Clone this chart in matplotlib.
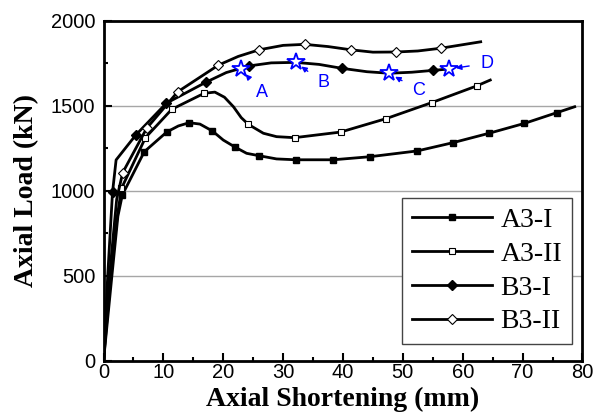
import numpy as np
import matplotlib.pyplot as plt
from matplotlib.ticker import MultipleLocator

# A3-I (filled squares); a31_mk = indices that carry a marker
a31_x = [0, 1.4, 2.4, 3.14, 6.8, 10.55, 12.5, 14.3, 16.1, 18.2, 20.0, 21.95, 23.9, 25.96,
         28.9, 32.1, 38.4, 44.5, 52.4, 58.3, 64.4, 70.3, 75.7, 78.7]
a31_y = [0, 500, 850, 975, 1229, 1345, 1381, 1400, 1392, 1351, 1298, 1257, 1220, 1206,
         1187, 1182, 1182, 1200, 1234, 1282, 1338, 1396, 1459, 1494]
a31_mk = [3, 4, 5, 7, 9, 11, 13, 15, 16, 17, 18, 19, 20, 21, 22]

# A3-II (open squares)
a32_x = [0, 1.2, 2.3, 3.0, 7.0, 11.4, 16.8, 18.6, 20.2, 21.7, 23.0, 24.2, 26.7, 28.9,
         31.9, 39.6, 47.2, 54.8, 62.3, 64.6]
a32_y = [0, 500, 850, 1014, 1312, 1479, 1573, 1580, 1550, 1494, 1430, 1390, 1338, 1318,
         1312, 1345, 1424, 1518, 1616, 1651]
a32_mk = [3, 4, 5, 6, 11, 14, 15, 16, 17, 18]

# B3-I (filled diamonds)
b31_x = [0, 0.7, 1.5, 2.1, 5.4, 10.5, 17.1, 20.5, 24.3, 28.0, 32.1, 36.0, 39.8, 44.0,
         47.7, 51.5, 55.1, 57.7]
b31_y = [0, 500, 990, 1181, 1328, 1515, 1638, 1695, 1734, 1752, 1755, 1743, 1720, 1700,
         1691, 1697, 1708, 1716]
b31_mk = [2, 4, 5, 6, 8, 12, 16]

# B3-II (open diamonds)
b32_x = [0, 1.0, 2.2, 3.2, 7.2, 12.4, 19.2, 22.5, 26.0, 30.0, 33.6, 37.5, 41.3, 45.0,
         48.9, 52.5, 56.3, 63.0]
b32_y = [0, 500, 950, 1106, 1367, 1582, 1739, 1790, 1829, 1855, 1861, 1848, 1829, 1815,
         1816, 1822, 1838, 1876]
b32_mk = [3, 4, 5, 6, 8, 10, 12, 14, 16]

# stars A-D on B3-I and their label positions
star_names = ["A", "B", "C", "D"]
star_x = [22.95, 32.1, 47.7, 57.7]
star_y = [1716, 1755, 1691, 1716]
label_x = [26.5, 36.7, 52.6, 64.0]
label_y = [1576, 1635, 1592, 1749]

plt.rcParams['font.family'] = ['Liberation Sans', 'DejaVu Sans']
fig = plt.figure(figsize=(5.96, 4.16), dpi=100)
ax = fig.add_axes([0.1737, 0.1329, 0.8036, 0.8173])

for y in [500, 1000, 1500]:
    ax.axhline(y, color='#a6a6a6', lw=1.0, zorder=0)

lw = 2.0
ax.plot(a31_x, a31_y, color='black', lw=lw, marker='s', ms=5, mfc='black', mec='black',
        markevery=a31_mk, label='A3-I')
ax.plot(a32_x, a32_y, color='black', lw=lw, marker='s', ms=5, mfc='white', mec='black',
        mew=0.8, markevery=a32_mk, label='A3-II')
ax.plot(b31_x, b31_y, color='black', lw=lw, marker='D', ms=5, mfc='black', mec='black',
        markevery=b31_mk, label='B3-I')
ax.plot(b32_x, b32_y, color='black', lw=lw, marker='D', ms=5, mfc='white', mec='black',
        mew=0.8, markevery=b32_mk, label='B3-II')

ax.plot(star_x, star_y, ls='none', marker='*', ms=13, mfc='white', mec='blue', mew=1.3, zorder=5)
for n, sx, sy, lx, ly in zip(star_names, star_x, star_y, label_x, label_y):
    ax.annotate(n, xy=(sx, sy), xytext=(lx, ly), color='blue', fontsize=13,
                ha='center', va='center',
                arrowprops=dict(arrowstyle='-|>', color='blue', lw=1.0,
                                mutation_scale=8, shrinkA=6, shrinkB=5))

ax.set_xlim(0, 80)
ax.set_ylim(0, 2000)
ax.xaxis.set_major_locator(MultipleLocator(10))
ax.xaxis.set_minor_locator(MultipleLocator(5))
ax.yaxis.set_major_locator(MultipleLocator(500))
ax.yaxis.set_minor_locator(MultipleLocator(250))
ax.tick_params(which='major', direction='in', length=6, width=1.5, labelsize=14.5)
ax.tick_params(which='minor', direction='in', length=3, width=1.5)
ax.tick_params(axis='x', pad=2)
ax.tick_params(axis='y', pad=6)
for s in ax.spines.values():
    s.set_linewidth(2.0)

ax.set_xlabel('Axial Shortening (mm)', family='Liberation Serif', fontweight='bold',
              fontsize=20, labelpad=3)
ax.set_ylabel('Axial Load (kN)', family='Liberation Serif', fontweight='bold',
              fontsize=20, labelpad=8)

leg = ax.legend(loc='lower right', bbox_to_anchor=(0.978, 0.049), borderaxespad=0,
                prop={'family': 'Liberation Serif', 'size': 20},
                fancybox=False, edgecolor='#444444', framealpha=1, handlelength=2.9,
                borderpad=0.35, labelspacing=0.3, handletextpad=0.3)
leg.get_frame().set_linewidth(1.0)

plt.savefig('out.png', dpi=100)
